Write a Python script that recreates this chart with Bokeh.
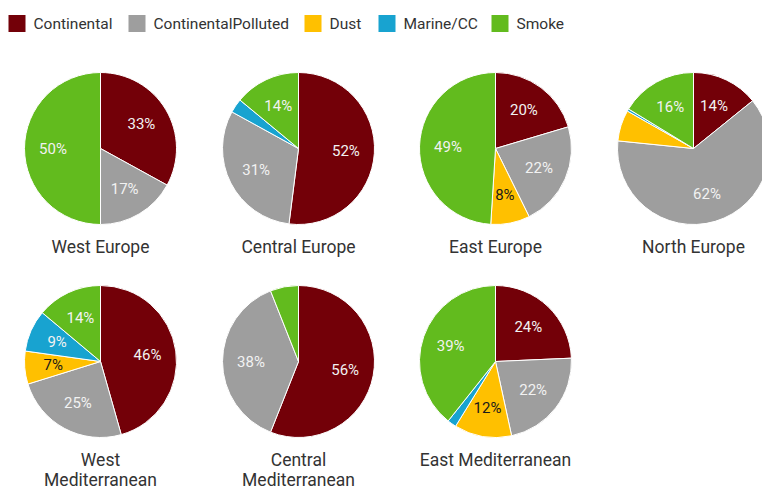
import math
from bokeh.plotting import figure
from bokeh.models import Range1d, ColumnDataSource
from bokeh.core.properties import value
from bokeh.embed import file_html
from bokeh.resources import INLINE

# ---- data ----
regions = ["West Europe", "Central Europe", "East Europe", "North Europe",
           "West\nMediterranean", "Central\nMediterranean", "East Mediterranean"]
types = ["Continental", "ContinentalPolluted", "Dust", "Marine/CC", "Smoke"]
continental = [33, 52, 20.4, 14.2, 45.6, 56, 24.3]
cont_polluted = [17, 31, 22.3, 62.4, 24.6, 38, 22.3]
dust = [0, 0, 8.3, 6.6, 7.0, 0, 12.2]
marine = [0, 3, 0, 0.5, 8.9, 0, 1.9]
smoke = [50, 14, 49, 16.3, 13.9, 6, 39.3]

# ---- style ----
colors = ["#730008", "#9e9e9e", "#ffc000", "#18a3d0", "#62bb1e"]
label_colors = ["#f2f2f2", "#f2f2f2", "#1a1a1a", "#f2f2f2", "#f2f2f2"]
FONT = value("Roboto")
H = 489  # reference height, y flipped into data space

W_FIG, H_FIG = 762, 489
p = figure(width=W_FIG, height=H_FIG, x_range=Range1d(0, 762), y_range=Range1d(0, 489),
           output_backend="svg", toolbar_location=None, min_border=0)
p.axis.visible = False
p.grid.visible = False
p.outline_line_color = None
p.background_fill_color = "white"

# layout
col_x = [100, 298, 495, 693]
row_y = [148, 361]
R = 76
LR = 47.5

series = [continental, cont_polluted, dust, marine, smoke]

wx, wy, ws, we, wc = [], [], [], [], []
lx, ly, lt, lc = [], [], [], []
tx, ty, tt = [], [], []
for i, name in enumerate(regions):
    cx = col_x[i % 4]
    cyr = row_y[i // 4]
    cy = H - cyr
    vals = [s[i] for s in series]
    total = sum(vals)
    cum = 0.0
    for k, v in enumerate(vals):
        if v <= 0:
            continue
        a0 = math.pi / 2 - 2 * math.pi * cum / total
        a1 = math.pi / 2 - 2 * math.pi * (cum + v) / total
        wx.append(cx); wy.append(cy); ws.append(a0); we.append(a1); wc.append(colors[k])
        if v >= 7:
            am = (a0 + a1) / 2
            lx.append(cx + LR * math.cos(am))
            ly.append(cy + LR * math.sin(am))
            lt.append(f"{round(v)}%")
            lc.append(label_colors[k])
        cum += v
    lines = name.split("\n")
    for j, ln in enumerate(lines):
        tx.append(cx)
        ty.append(H - (cyr + 98 + 20 * j))
        tt.append(ln)

p.wedge(x="x", y="y", radius=R, start_angle="s", end_angle="e", direction="clock",
        fill_color="c", line_color="white", line_width=1,
        source=ColumnDataSource(dict(x=wx, y=wy, s=ws, e=we, c=wc)))

p.text(x="x", y="y", text="t", text_color="c", text_font=FONT, text_font_size="15px",
       text_align="center", text_baseline="middle",
       source=ColumnDataSource(dict(x=lx, y=ly, t=lt, c=lc)))

p.text(x="x", y="y", text="t", text_color="#333333", text_font=FONT, text_font_size="17.5px",
       text_align="center", text_baseline="middle",
       source=ColumnDataSource(dict(x=tx, y=ty, t=tt)))

# legend
leg_sq_x = [8, 128, 304, 378, 491]
leg_y = H - 23
p.rect(x=[x + 8.5 for x in leg_sq_x], y=[leg_y] * 5, width=17, height=17,
       width_units="screen", height_units="screen", fill_color=colors, line_color=None)
p.text(x=[x + 25 for x in leg_sq_x], y=[leg_y] * 5, text=types, text_color="#333333",
       text_font=FONT, text_font_size="15.5px", text_align="left", text_baseline="middle")

open("out.html", "w").write(file_html(p, INLINE))
